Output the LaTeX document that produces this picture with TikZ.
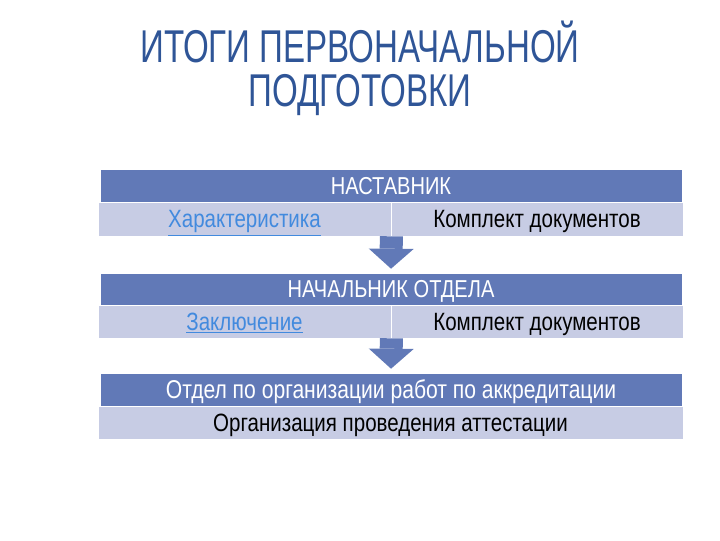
\documentclass[tikz,border=0pt]{standalone}
\usepackage{fontspec}
\setmainfont{Liberation Sans}[FakeStretch=0.82]
\newfontfamily\ttlfont{Liberation Sans}[FakeStretch=0.72]
\usetikzlibrary{arrows.meta}
\definecolor{headblue}{RGB}{97,121,183}
\definecolor{rowgray}{RGB}{199,204,228}
\definecolor{titleblue}{RGB}{47,85,151}
\definecolor{linkblue}{RGB}{66,138,222}
\tikzset{
  head/.style={fill=headblue, draw=white, line width=0.4pt, text=white, inner sep=0pt,
    text height=12.5pt, text depth=0pt, font=\fontsize{17.4}{19}\selectfont},
  cell/.style={fill=rowgray, draw=white, line width=0.4pt, text=black, inner sep=0pt,
    text height=12.5pt, text depth=0pt, font=\fontsize{17.8}{19}\selectfont},
  flow/.style={headblue, line width=0.575cm,
    -{Triangle[width=1.125cm,length=0.5cm,line width=0pt]}, shorten >=0.1cm},
  ttl/.style={text=titleblue, font=\ttlfont\fontsize{32.7}{31}\selectfont, inner sep=0pt, anchor=base}
}
\newcommand{\lnk}[1]{\textcolor{linkblue}{\underline{#1}}}

\begin{document}
\begin{tikzpicture}[x=0.025cm, y=-0.025cm]
		%%%%% START %%%%%
		\useasboundingbox (0, 0) rectangle (720, 540);
		
		\node[ttl] (ttlA) at (360, 62) {ИТОГИ ПЕРВОНАЧАЛЬНОЙ};
		\node[ttl] (ttlB) at (360, 106) {ПОДГОТОВКИ};
		
		% first block
		\node[head, minimum width=14.55cm, minimum height=0.825cm] (nast) at (391, 185.5) {НАСТАВНИК};
		\node[cell, minimum width=7.325cm, minimum height=0.85cm] (nastL) at (244.5, 219) {\lnk{Характеристика}};
		\node[cell, minimum width=7.3cm, minimum height=0.85cm] (nastR) at (537, 219) {Комплект документов};
		
		% second block
		\node[head, minimum width=14.55cm, minimum height=0.8cm] (chief) at (391, 289) {НАЧАЛЬНИК ОТДЕЛА};
		\node[cell, minimum width=7.325cm, minimum height=0.825cm] (chiefL) at (244.5, 321.5) {\lnk{Заключение}};
		\node[cell, minimum width=7.3cm, minimum height=0.825cm] (chiefR) at (537, 321.5) {Комплект документов};
		
		% third block
		\node[head, minimum width=14.55cm, minimum height=0.825cm, font=\fontsize{18.3}{19}\selectfont] (accr) at (391, 389.5) {Отдел по организации работ по аккредитации};
		\node[cell, minimum width=14.625cm, minimum height=0.825cm] (accrR) at (390.5, 422.5) {Организация проведения аттестации};
		
		\draw[flow] (nastL.south east) -- (chief.north);
		\draw[flow] (chiefL.south east) -- (accr.north);
		
		%%%%% END %%%%%
	\end{tikzpicture}
\end{document}
